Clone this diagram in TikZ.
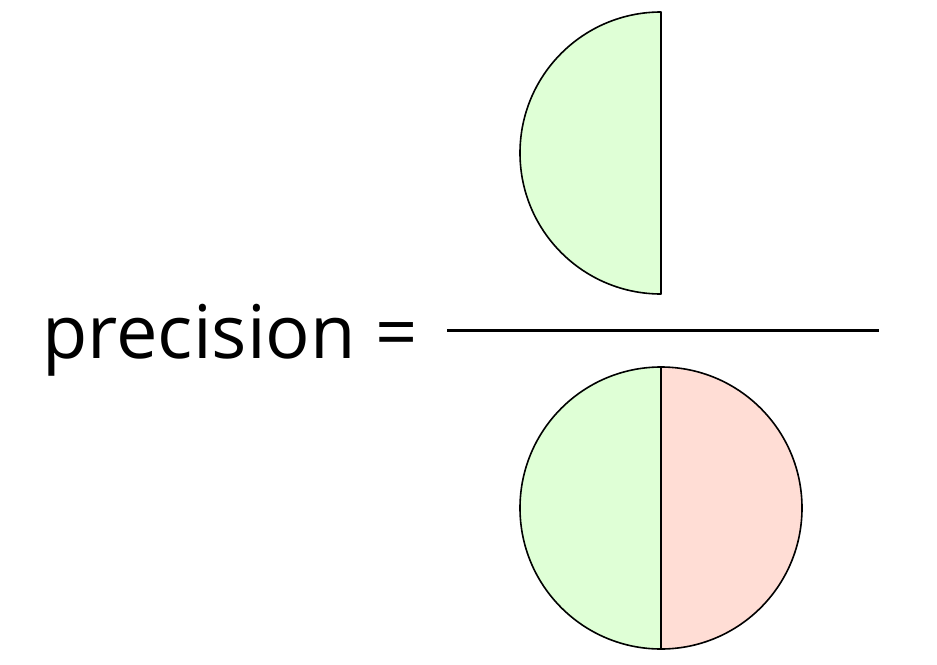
\documentclass[tikz,border=0pt]{standalone}
\usepackage{fontspec}
\setmainfont{Open Sans}
\definecolor{tpgreen}{HTML}{DFFFD6}
\definecolor{fppink}{HTML}{FFDDD5}
\tikzset{half/.style={draw=black,line width=1.6pt,line join=round}}
\begin{document}
\begin{tikzpicture}[x=1pt,y=-1pt]
\useasboundingbox (0,0) rectangle (937,664);
% numerator: left half disk
\draw[half,fill=tpgreen] (661,12) arc[start angle=270,end angle=90,radius=141] -- cycle;
% fraction line
\coordinate (fl) at (447,330);
\coordinate (fr) at (879,330);
\draw[line width=3pt] (fl) -- (fr);
% denominator: full disk
\draw[half,fill=tpgreen] (661,367) arc[start angle=270,end angle=90,radius=141] -- cycle;
\draw[half,fill=fppink] (661,367) arc[start angle=270,end angle=450,radius=141] -- cycle;
% label
\node[anchor=base west,inner sep=0pt,font=\fontsize{74}{88}\selectfont] (lbl) at (42,358) {precision =};
\end{tikzpicture}
\end{document}
